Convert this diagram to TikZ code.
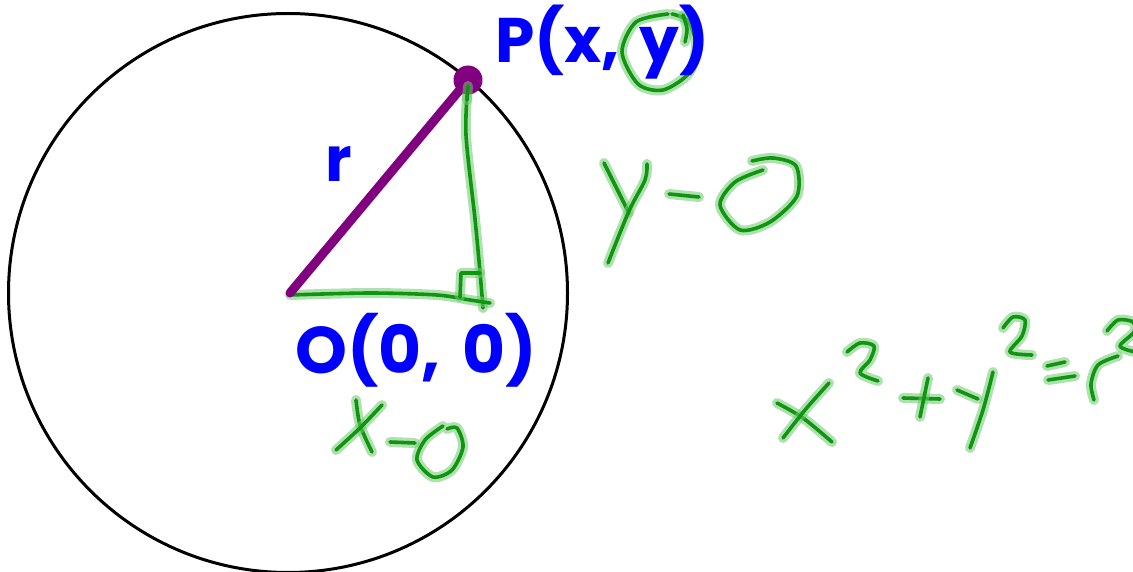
\documentclass[tikz,border=0pt]{standalone}
\usepackage{fontspec}
\setmainfont{Poppins}
\begin{document}
\begin{tikzpicture}[x=1pt,y=-1pt]
\definecolor{inkgreen}{RGB}{15,150,15}
\definecolor{halogreen}{RGB}{110,200,110}
\definecolor{penblue}{RGB}{0,0,255}
\definecolor{penpurple}{RGB}{128,0,128}
\tikzset{
  ink/.style={draw=inkgreen, line width=3.6pt, line cap=round, line join=round,
    preaction={draw=halogreen, line width=10pt, draw opacity=0.55, line cap=round, line join=round}},
  lbl/.style={text=penblue, font=\bfseries\fontsize{66}{78}\selectfont, inner sep=0pt, anchor=base west},
}
\useasboundingbox (0,0) rectangle (1133,572);
\clip (0,0) rectangle (1133,572);
\fill[white] (0,0) rectangle (1133,572);
% circle
\coordinate (O) at (290,293);
\node[draw=black, line width=3pt, circle, minimum size=559pt, inner sep=0pt] (C) at (288,293) {};
% triangle legs (hand drawn)
\draw[ink] plot[smooth] coordinates {(468,82) (466,135) (475,219) (480,272) (483,308)};
\draw[ink] plot[smooth] coordinates {(290,295) (370,293) (437,295) (470,300) (490,303)};
\draw[ink] (460,297) -- (461,273) -- (480,273);
% radius
\node[circle, fill=penpurple, minimum size=29pt, inner sep=0pt] (P) at (468,80) {};
\draw[penpurple, line width=9pt, line cap=round] (O) -- (P.center);
\draw[ink, preaction={}] (468,86) -- (467,100);
% circle round y
\draw[ink] plot[smooth] coordinates {(668,14) (636,22) (622,52) (638,84) (663,90) (689,73) (696,45) (688,21) (672,14)};
\draw[ink] plot[smooth] coordinates {(683,15) (687,29) (685,42)};
% labels
\node[lbl, font=\bfseries\fontsize{63}{76}\selectfont] (Plbl) at (495,63) {P(x,\hspace{20pt}y)};
\node[lbl] (Olbl) at (295,373) {O(0,\hspace{22pt}0)};
\node[lbl, font=\bfseries\fontsize{62}{74}\selectfont] (rlbl) at (325,182) {r};
% y-0
\draw[ink] (604,163) -- (629,213);
\draw[ink] plot[smooth] coordinates {(647,164) (645,180) (629,211) (608,263)};
\draw[ink] (669,194) -- (699,197);
\draw[ink] plot[smooth] coordinates {(763,170) (735,182) (720,205) (740,230) (770,222) (797,196) (796,166) (773,158) (752,161)};
% x-0
\draw[ink] plot[smooth] coordinates {(356,400) (360,425) (372,452)};
\draw[ink] plot[smooth] coordinates {(382,405) (360,428) (336,450)};
\draw[ink] (390,442) -- (415,443);
\draw[ink] plot[smooth] coordinates {(443,426) (425,440) (417,460) (433,477) (452,470) (463,447) (457,428) (447,429)};
% x^2 + y^2 = r^2
\draw[ink] plot[smooth] coordinates {(777,403) (803,418) (832,442)};
\draw[ink] plot[smooth] coordinates {(829,383) (805,410) (783,438)};
\draw[ink] plot[smooth] coordinates {(847,352) (860,343) (874,346) (870,360) (860,373) (878,381)};
\draw[ink] (903,398) -- (940,399);
\draw[ink] (928,378) -- (920,417);
\draw[ink] (957,390) -- (978,399);
\draw[ink] plot[smooth] coordinates {(993,372) (983,410) (970,448)};
\draw[ink] plot[smooth] coordinates {(1003,328) (1013,317) (1025,320) (1022,336) (1010,352) (1032,355)};
\draw[ink] (1047,366) -- (1065,362);
\draw[ink] (1048,380) -- (1075,376);
\draw[ink] plot[smooth] coordinates {(1094,400) (1091,384) (1098,365) (1118,356)};
\draw[ink] plot[smooth] coordinates {(1107,331) (1118,320) (1133,322) (1134,332) (1120,346) (1135,352)};
\end{tikzpicture}
\end{document}
